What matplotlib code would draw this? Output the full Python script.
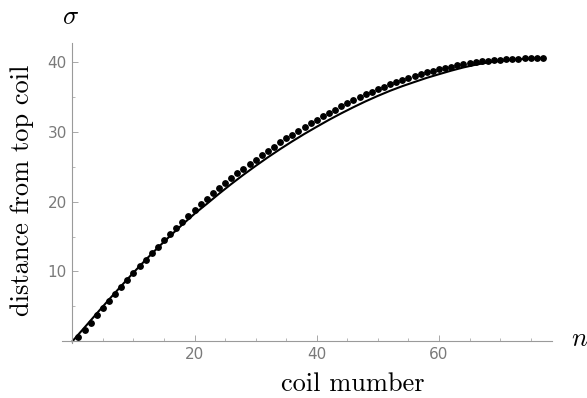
import numpy as np
import matplotlib

matplotlib.use("Agg")

import matplotlib.pyplot as plt
from matplotlib.ticker import MultipleLocator


output_file = "out.png"

# coil index of each measured coil
coil_arr = np.arange(1, 78)

# measured distance of each coil from the top coil
sigma_arr = np.array([
    0.55, 1.61, 2.66, 3.70, 4.73, 5.75, 6.76, 7.76, 8.76, 9.74,
    10.71, 11.67, 12.62, 13.55, 14.46, 15.36, 16.25, 17.12, 17.97, 18.81,
    19.61, 20.39, 21.16, 21.90, 22.63, 23.34, 24.04, 24.71, 25.37, 26.01,
    26.65, 27.27, 27.87, 28.46, 29.04, 29.60, 30.15, 30.69, 31.21, 31.71,
    32.21, 32.70, 33.17, 33.63, 34.08, 34.51, 34.93, 35.34, 35.73, 36.11,
    36.47, 36.81, 37.14, 37.44, 37.73, 38.00, 38.26, 38.49, 38.71, 38.91,
    39.12, 39.31, 39.49, 39.66, 39.80, 39.94, 40.05, 40.15, 40.24, 40.31,
    40.37, 40.42, 40.46, 40.50, 40.52, 40.54, 40.55,
])

# model curve
model_n_arr = np.array([
    0, 2, 4, 6, 8, 10, 12, 14, 16, 18,
    20, 22, 24, 26, 28, 30, 32, 34, 36, 38,
    40, 42, 44, 46, 48, 50, 52, 54, 56, 58,
    60, 62, 64, 66, 68, 70, 72, 74, 76, 77,
])

model_sigma_arr = np.array([
    0.00, 1.99, 4.00, 5.99, 7.93, 9.84, 11.67, 13.42, 15.09, 16.71,
    18.26, 19.67, 21.12, 22.51, 23.84, 25.11, 26.34, 27.51, 28.63, 29.70,
    30.71, 31.70, 32.63, 33.51, 34.35, 35.13, 35.86, 36.52, 37.12, 37.71,
    38.23, 38.74, 39.20, 39.59, 39.91, 40.13, 40.30, 40.42, 40.50, 40.52,
])

x_ticks = [20, 40, 60]
y_ticks = [10, 20, 30, 40]


def main():
    '''
    routine use
        plot coil distance from top coil against coil number
    '''

    plt.rcParams["mathtext.fontset"] = "cm"

    axis_grey = "#9a9a9a"
    label_grey = "#7a7a7a"

    fig = plt.figure(
        figsize=(5.87, 3.98),
        dpi=100,
    )

    ax = fig.add_axes(
        [0.1056, 0.138, 0.8348, 0.754]
    )

    ax.plot(
        model_n_arr,
        model_sigma_arr,
        color="black",
        linewidth=1.5,
        zorder=2,
    )

    ax.plot(
        coil_arr,
        sigma_arr,
        marker="o",
        linestyle="",
        markersize=3.9,
        color="black",
        zorder=3,
    )

    ax.set_xlim(-1.7, 78.5)
    ax.set_ylim(-0.25, 42.7)

    for side in ["top", "right"]:
        ax.spines[side].set_visible(False)

    ax.spines["left"].set_position(("data", 0))
    ax.spines["bottom"].set_position(("data", 0))

    for side in ["left", "bottom"]:
        ax.spines[side].set_color(axis_grey)
        ax.spines[side].set_linewidth(0.8)

    ax.set_xticks(x_ticks)
    ax.set_yticks(y_ticks)
    ax.xaxis.set_minor_locator(MultipleLocator(5))
    ax.yaxis.set_minor_locator(MultipleLocator(5))

    ax.tick_params(
        which="major",
        direction="in",
        length=4,
        width=0.6,
        color=axis_grey,
        labelcolor=label_grey,
        labelsize=11,
        pad=4,
    )

    ax.tick_params(
        which="minor",
        direction="in",
        length=2.5,
        width=0.5,
        color=axis_grey,
    )

    fig.text(
        71 / 587,
        1 - 17 / 398,
        r"$\sigma$",
        fontsize=19,
        ha="center",
        va="center",
    )

    fig.text(
        580 / 587,
        1 - 339 / 398,
        r"$n$",
        fontsize=19,
        ha="center",
        va="center",
    )

    fig.text(
        353 / 587,
        1 - 384 / 398,
        "coil mumber",
        fontfamily="cmr10",
        fontsize=19,
        ha="center",
        va="center",
    )

    fig.text(
        22 / 587,
        1 - 190 / 398,
        "distance from top coil",
        fontfamily="cmr10",
        fontsize=19,
        rotation=90,
        ha="center",
        va="center",
    )

    fig.savefig(
        output_file,
        dpi=100,
    )


if __name__ == "__main__":

    main()
